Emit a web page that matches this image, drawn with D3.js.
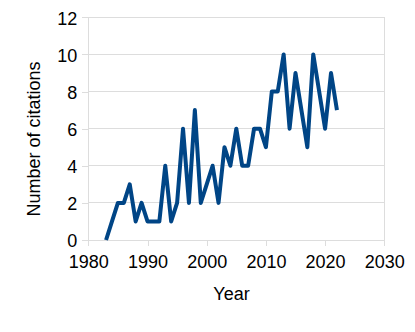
<!DOCTYPE html>
<html><head><meta charset="utf-8">
<script src="https://cdn.jsdelivr.net/npm/d3@7"></script>
<style>body{margin:0;background:#fff}svg{display:block}text{font-family:"Liberation Sans",Arial,sans-serif;fill:#000}</style>
</head><body>
<svg id="c" width="415" height="332"></svg>
<script>
const years = [1983,1984,1985,1986,1987,1988,1989,1990,1991,1992,1993,1994,1995,1996,1997,1998,1999,2000,2001,2002,2003,2004,2005,2006,2007,2008,2009,2010,2011,2012,2013,2014,2015,2016,2017,2018,2019,2020,2021,2022];
const citations = [0,1,2,2,3,1,2,1,1,1,4,1,2,6,2,7,2,3,4,2,5,4,6,4,4,6,6,5,8,8,10,6,9,7,5,10,8,6,9,7];
const xTicks = [1980,1990,2000,2010,2020,2030];
const yTicks = [0,2,4,6,8,10,12];

const svg = d3.select("#c");
const x = d3.scaleLinear().domain([1980,2030]).range([88.3,384.3]);
const y = d3.scaleLinear().domain([0,12]).range([240,17.3]);

// gridlines
svg.append("g").selectAll("line").data(yTicks).join("line")
  .attr("x1",x(1980)).attr("x2",x(2030))
  .attr("y1",d=>y(d)).attr("y2",d=>y(d))
  .attr("stroke","#dddddd").attr("stroke-width",1).attr("shape-rendering","crispEdges");
// right border
svg.append("line").attr("x1",x(2030)).attr("x2",x(2030)).attr("y1",y(12)).attr("y2",y(0))
  .attr("stroke","#dddddd").attr("shape-rendering","crispEdges");

const xAxis = svg.append("g").attr("transform",`translate(0,${y(0)})`)
  .call(d3.axisBottom(x).tickValues(xTicks).tickFormat(d3.format("d")).tickSize(6).tickPadding(9));
const yAxis = svg.append("g").attr("transform",`translate(${x(1980)},0)`)
  .call(d3.axisLeft(y).tickValues(yTicks).tickSize(6).tickPadding(5));
[xAxis,yAxis].forEach(a=>{
  a.selectAll("path,line").attr("stroke","#dddddd").attr("shape-rendering","crispEdges");
  a.selectAll("text").attr("font-size",18).attr("font-family","Liberation Sans, Arial, sans-serif").attr("fill","#000");
});
yAxis.selectAll("text").attr("dy","0.38em");

svg.append("path").datum(years.map((d,i)=>[d,citations[i]]))
  .attr("fill","none").attr("stroke","#004586").attr("stroke-width",4)
  .attr("stroke-linejoin","round")
  .attr("d",d3.line().x(d=>x(d[0])).y(d=>y(d[1])));

svg.append("text").attr("x",231.5).attr("y",299.5).attr("text-anchor","middle")
  .attr("font-size",18).text("Year");
svg.append("text").attr("transform","translate(40,139) rotate(-90)").attr("text-anchor","middle")
  .attr("font-size",18).text("Number of citations");
</script>
</body></html>
